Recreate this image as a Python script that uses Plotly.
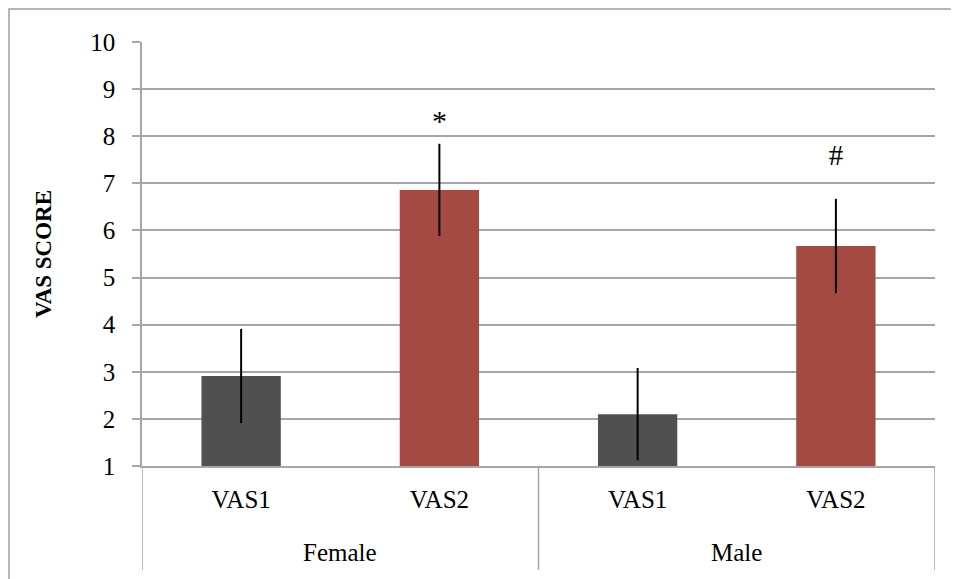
import plotly.graph_objects as go

# ---- data ----
groups = ["Female", "Female", "Male", "Male"]
categories = ["VAS1", "VAS2", "VAS1", "VAS2"]
vas_score = [2.91, 6.86, 2.10, 5.67]
vas_error = [1.0, 0.98, 0.98, 1.0]
category_colors = {"VAS1": "#505050", "VAS2": "#A54A43"}

sig_groups = ["Female", "Male"]
sig_categories = ["VAS2", "VAS2"]
sig_marks = ["*", "#"]
sig_y = [8.27, 7.55]

y_ticks = [1, 2, 3, 4, 5, 6, 7, 8, 9, 10]

FONT = "Liberation Serif"
GRID = "#A6A6A6"

# category slots along the x axis (one per bar)
pairs = list(zip(groups, categories))
x_pos = list(range(len(pairs)))
group_names = list(dict.fromkeys(groups))
group_slots = {g: [i for i, (gg, _) in enumerate(pairs) if gg == g] for g in group_names}

fig = go.Figure()
fig.add_trace(go.Bar(
    x=x_pos,
    y=vas_score,
    width=0.4,
    marker=dict(color=[category_colors[c] for c in categories], line=dict(width=0)),
    error_y=dict(type="data", array=vas_error, visible=True, color="black",
                 thickness=2, width=0),
    showlegend=False,
    hoverinfo="skip",
))
fig.add_trace(go.Scatter(
    x=[pairs.index(p) for p in zip(sig_groups, sig_categories)],
    y=sig_y,
    mode="text",
    text=sig_marks,
    textfont=dict(family=FONT, size=[30, 29], color="black"),
    showlegend=False,
    hoverinfo="skip",
))

shapes = [
    # outer chart border
    dict(type="rect", xref="paper", yref="paper",
         x0=-0.1677, x1=1.05, y0=-0.4, y1=1.078,
         line=dict(color="#A0A0A0", width=1.5), fillcolor="rgba(0,0,0,0)", layer="below"),
]
bounds = [group_slots[g][0] - 0.5 for g in group_names] + [group_slots[group_names[-1]][-1] + 0.5]
for b in bounds:
    shapes.append(dict(type="line", xref="x", yref="paper", x0=b, x1=b, y0=0, y1=-0.245,
                       line=dict(color=GRID, width=1.5)))

annotations = [
    dict(x=sum(group_slots[g]) / len(group_slots[g]), y=-0.205, xref="x", yref="paper",
         text=g, showarrow=False, yanchor="middle",
         font=dict(family=FONT, size=25, color="black"))
    for g in group_names
]

fig.update_layout(
    width=951, height=571,
    margin=dict(l=134, r=24, t=34, b=113),
    paper_bgcolor="white",
    plot_bgcolor="white",
    font=dict(family=FONT, size=25, color="black"),
    shapes=shapes,
    annotations=annotations,
)

fig.update_xaxes(
    range=[-0.5, len(pairs) - 0.5],
    tickvals=x_pos,
    ticktext=categories,
    showgrid=False,
    zeroline=False,
    showline=True, linecolor=GRID, linewidth=1.5,
    ticks="",
    ticklabelstandoff=10,
    tickfont=dict(family=FONT, size=25, color="black"),
)
fig.update_yaxes(
    range=[1, 10],
    tickvals=y_ticks,
    showgrid=True, gridcolor=GRID, gridwidth=1.5,
    showline=True, linecolor=GRID, linewidth=1.5,
    ticks="outside", ticklen=8, tickcolor=GRID, tickwidth=1.5,
    tickfont=dict(family=FONT, size=25, color="black"),
    ticklabelstandoff=12,
    zeroline=False,
    title=dict(text="<b>VAS SCORE</b>", font=dict(family=FONT, size=23, color="black"),
               standoff=32),
    automargin=False,
)

fig.write_html("out.html")
